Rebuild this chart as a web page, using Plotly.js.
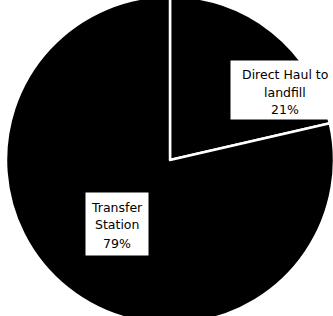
<!DOCTYPE html>
<html><head><meta charset="utf-8">
<script src="https://cdn.plot.ly/plotly-3.0.1.min.js"></script>
<style>html,body{margin:0;padding:0;overflow:hidden;background:#fff;width:333px;height:316px}
#chart{position:absolute;left:0;top:-4px;width:340px;height:328px}</style>
</head><body><div id="chart"></div>
<script>
const categories = ["Direct Haul to landfill", "Transfer Station"];
const labelLines = [["Direct Haul to", "landfill"], ["Transfer", "Station"]];
const shares = [21.4, 78.6];

const total = shares.reduce((a, b) => a + b, 0);
const pct = shares.map(v => Math.round(v / total * 100) + "%");

const trace = {
  type: "pie",
  labels: categories,
  values: shares,
  sort: false,
  direction: "clockwise",
  rotation: 0,
  textinfo: "none",
  hoverinfo: "label+percent",
  marker: {colors: ["#000000", "#000000"], line: {color: "#ffffff", width: 2.5}},
  domain: {x: [0, 1], y: [0, 1]},
  showlegend: false
};

const W = 340, H = 328, TOP = -4;
// label boxes in page pixels
const boxes = [
  {x0: 231, x1: 331, y0: 61, y1: 119, tx: 285, ty: 74},
  {x0: 86, x1: 148, y0: 193, y1: 255, tx: 117, ty: 207}
];
const LS = 18;
const px = x => x / W;
const py = y => 1 - (y - TOP) / H;
const annotations = [];
boxes.forEach((b, i) => {
  annotations.push({
    x: px((b.x0 + b.x1) / 2), y: py((b.y0 + b.y1) / 2), xref: "paper", yref: "paper",
    xanchor: "center", yanchor: "middle", showarrow: false, text: " ",
    bgcolor: "#ffffff", width: b.x1 - b.x0, height: b.y1 - b.y0, borderpad: 0
  });
  labelLines[i].concat([pct[i]]).forEach((t, k) => {
    annotations.push({
      x: px(b.tx), y: py(b.ty + k * LS), xref: "paper", yref: "paper",
      xanchor: "center", yanchor: "middle", showarrow: false, text: t,
      font: {family: "DejaVu Sans, sans-serif", size: 12.5, color: "#000000"}
    });
  });
});

Plotly.newPlot("chart", [trace], {
  width: W, height: H,
  margin: {l: 0, r: 0, t: 0, b: 0},
  paper_bgcolor: "#ffffff",
  annotations: annotations
}, {displayModeBar: false, staticPlot: true});
</script></body></html>
